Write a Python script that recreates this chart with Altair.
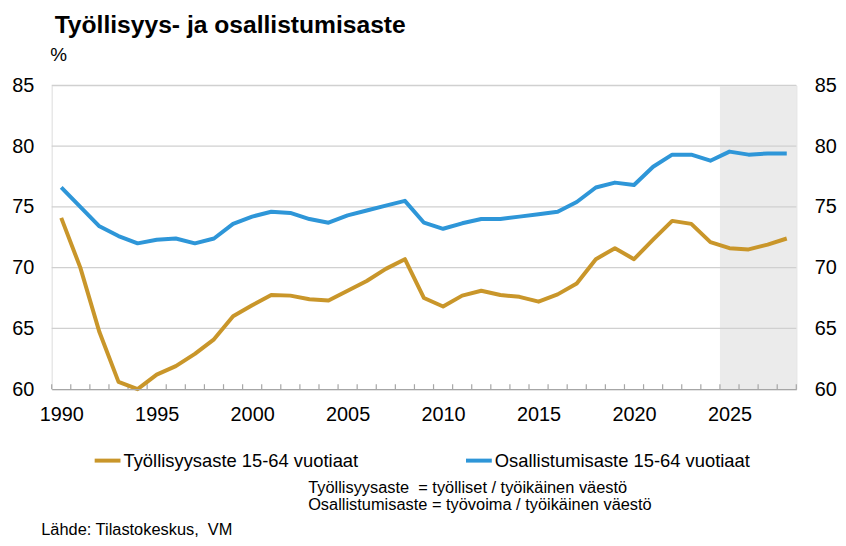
import altair as alt
import pandas as pd

# ---------------- data ----------------
years = list(range(1990, 2029))
employment = [74.1, 70.0, 64.7, 60.6, 60.0, 61.2, 61.9, 62.9, 64.1, 66.0,
              66.9, 67.75, 67.7, 67.4, 67.3, 68.1, 68.9, 69.9, 70.7, 67.5,
              66.8, 67.7, 68.1, 67.75, 67.6, 67.2, 67.8, 68.7, 70.7, 71.6,
              70.7, 72.3, 73.85, 73.6, 72.1, 71.6, 71.5, 71.9, 72.4]
participation = [76.6, 75.0, 73.4, 72.6, 72.0, 72.3, 72.4, 72.0, 72.4, 73.6,
                 74.2, 74.6, 74.5, 74.0, 73.7, 74.3, 74.7, 75.1, 75.5, 73.7,
                 73.2, 73.65, 74.0, 74.0, 74.2, 74.4, 74.6, 75.4, 76.6, 77.0,
                 76.8, 78.3, 79.3, 79.3, 78.8, 79.55, 79.3, 79.4, 79.4]
series_names = ["Työllisyysaste 15-64 vuotiaat", "Osallistumisaste 15-64 vuotiaat"]
series_colors = ["#C9962A", "#2E96D8"]
forecast_start = 2025
forecast_end = 2028
y_ticks = [60, 65, 70, 75, 80, 85]
title_text = "Työllisyys- ja osallistumisaste"
unit_text = "%"
notes = ["Työllisyysaste \u00a0= työlliset / työikäinen väestö",
         "Osallistumisaste = työvoima / työikäinen väestö"]
source_text = "Lähde: Tilastokeskus, \u00a0VM"

# ---------------- layout ----------------
W, H = 750, 306
FONT = "Liberation Sans"
GRID = "#D0D0D0"
AXIS = "#A6A6A6"

df = pd.DataFrame({
    "year": years * 2,
    "value": employment + participation,
    "series": [series_names[0]] * len(years) + [series_names[1]] * len(years),
})
x_domain = [years[0] - 0.5, years[-1] + 0.5]
tick_pos = [y - 0.5 for y in years] + [years[-1] + 0.5]
half = W / len(years) / 2

x_scale = alt.Scale(domain=x_domain, nice=False, zero=False)
y_scale = alt.Scale(domain=[y_ticks[0], y_ticks[-1]], nice=False, zero=False)


def make_x_axis():
    return alt.Axis(
        values=tick_pos,
        labelExpr="(datum.value + 0.5) % 5 == 0 ? toString(datum.value + 0.5) : ''",
        labelOffset=half, ticks=False, tickSize=0, grid=False,
        domain=True, domainColor=AXIS, domainWidth=1.3,
        labelFont=FONT, labelFontSize=20, labelColor="black", labelPadding=16,
        labelFlush=False, labelOverlap=False, labelBound=False, title=None, zindex=1,
    )


shade = alt.Chart(pd.DataFrame({"x1": [forecast_start - 0.5], "x2": [forecast_end + 0.5]})).mark_rect(
    color="#EBEBEB"
).encode(
    x=alt.X("x1:Q", scale=x_scale, axis=make_x_axis()),
    x2="x2:Q",
)

grid = alt.Chart(pd.DataFrame({"v": y_ticks[1:]})).mark_rule(color=GRID, strokeWidth=1.3).encode(
    y=alt.Y("v:Q", scale=y_scale, axis=alt.Axis(
        orient="right", values=y_ticks, grid=False, domain=False, ticks=False, tickSize=0,
        labelPadding=18, labelFont=FONT, labelFontSize=20, labelColor="black", title=None,
    )),
)

xticks = alt.Chart(pd.DataFrame({"t": tick_pos})).mark_rule(color=AXIS, strokeWidth=1.2).encode(
    x=alt.X("t:Q", scale=x_scale, axis=make_x_axis()),
    y=alt.value(H),
    y2=alt.value(H - 5),
)

lines = alt.Chart(df).mark_line(strokeWidth=4, strokeJoin="round").encode(
    x=alt.X("year:Q", scale=x_scale, axis=make_x_axis()),
    y=alt.Y("value:Q", scale=y_scale, axis=alt.Axis(
        orient="left", values=y_ticks, grid=False, domain=False, ticks=False, tickSize=0,
        labelPadding=18, labelFont=FONT, labelFontSize=20, labelColor="black",
        title=unit_text, titleAngle=0, titleX=-2, titleY=-21, titleAlign="left",
        titleBaseline="bottom", titleFont=FONT, titleFontSize=19, titleFontWeight="normal",
        titleColor="black",
    )),
    color=alt.Color("series:N", scale=alt.Scale(domain=series_names, range=series_colors),
                    legend=alt.Legend(
                        orient="none", legendX=41.3, legendY=362.7, direction="horizontal",
                        symbolType="stroke", symbolSize=676, symbolStrokeWidth=4,
                        labelFont=FONT, labelFontSize=18.5, labelColor="black",
                        labelOffset=1, columnPadding=100, title=None, labelLimit=400, padding=0,
                    )),
    detail="series:N",
)

note_layer = alt.Chart(pd.DataFrame({"a": [0]})).mark_text(
    text=notes, align="left", baseline="alphabetic", font=FONT, fontSize=16.5,
    lineHeight=17, color="black",
).encode(x=alt.value(258.3), y=alt.value(410.4))

source_layer = alt.Chart(pd.DataFrame({"a": [0]})).mark_text(
    text=source_text, align="left", baseline="alphabetic", font=FONT, fontSize=16.5,
    color="black",
).encode(x=alt.value(-10.5), y=alt.value(452.7))

chart = alt.layer(shade, grid, xticks, lines, note_layer, source_layer).resolve_scale(
    y="independent"
).properties(
    width=W, height=H,
    title=alt.TitleParams(text=title_text, anchor="start", frame="group", font=FONT, fontSize=24.8,
                          fontWeight="bold", color="black", dx=3, offset=8),
    autosize=alt.AutoSizeParams(type="none"),
    padding={"left": 44, "top": 76, "right": 42, "bottom": 154},
).configure_view(stroke=None).configure(background="white")

chart.save("out.html", embed_options={"renderer": "svg", "actions": False})
